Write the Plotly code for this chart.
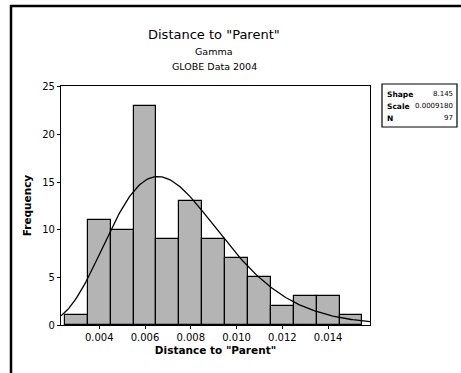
import math
import plotly.graph_objects as go

# Data
bin_centers = [0.003, 0.004, 0.005, 0.006, 0.007, 0.008, 0.009, 0.010, 0.011, 0.012, 0.013, 0.014, 0.015]
counts = [1, 11, 10, 23, 9, 13, 9, 7, 5, 2, 3, 3, 1]
bin_width = 0.001
shape_k = 8.145
scale_theta = 0.0009180
n_obs = 97
x_ticks = [0.004, 0.006, 0.008, 0.010, 0.012, 0.014]
x_tick_labels = ["0.004", "0.006", "0.008", "0.010", "0.012", "0.014"]
y_ticks = [0, 5, 10, 15, 20, 25]

x_range = [0.00233, 0.01583]
y_range = [0, 25.1]

# Fitted gamma curve scaled to counts
def gamma_pdf(x, k, th):
    return math.exp((k - 1) * math.log(x) - x / th - math.lgamma(k) - k * math.log(th))

n_pts = 200
curve_x = [x_range[0] + (x_range[1] - x_range[0]) * i / (n_pts - 1) for i in range(n_pts)]
curve_y = [gamma_pdf(x, shape_k, scale_theta) * n_obs * bin_width for x in curve_x]

fig = go.Figure()
fig.add_trace(go.Bar(
    x=bin_centers, y=counts, width=bin_width,
    marker=dict(color="#b4b4b4", line=dict(color="black", width=1.2)),
    showlegend=False, hoverinfo="skip"))
fig.add_trace(go.Scatter(
    x=curve_x, y=curve_y, mode="lines",
    line=dict(color="black", width=1.3), showlegend=False, hoverinfo="skip"))

font_main = "DejaVu Sans"
L, R, T, B = 61, 370, 86, 325
W, H = 461, 373
pw, ph = R - L, B - T

def px(xp):
    return (xp - L) / pw

def py(yp):
    return (B - yp) / ph

fig.update_layout(
    width=W, height=H,
    margin=dict(l=L, r=W - R, t=T, b=H - B),
    paper_bgcolor="white", plot_bgcolor="white",
    bargap=0,
    font=dict(family=font_main, color="black", size=10),
    xaxis=dict(range=x_range, tickvals=x_ticks, ticktext=x_tick_labels,
               ticks="outside", ticklen=3, tickcolor="black",
               showline=True, linecolor="black", linewidth=1.2, mirror=True,
               showgrid=False, zeroline=False,
               tickfont=dict(size=10, family=font_main),
               title=dict(text="<b>Distance to \"Parent\"</b>", font=dict(size=10.5, family=font_main), standoff=4)),
    yaxis=dict(range=y_range, tickvals=y_ticks,
               ticks="outside", ticklen=3, tickcolor="black",
               showline=True, linecolor="black", linewidth=1.2, mirror=True,
               showgrid=False, zeroline=False,
               tickfont=dict(size=10, family=font_main),
               title=dict(text="<b>Frequency</b>", font=dict(size=10.5, family=font_main), standoff=8)),
)

shapes = []
# outer frame (left and top edges visible)
shapes.append(dict(type="rect", xref="paper", yref="paper",
                   x0=px(11), x1=px(475), y0=py(385), y1=py(6),
                   line=dict(color="black", width=2.5), fillcolor="rgba(0,0,0,0)"))
# parameter box
shapes.append(dict(type="rect", xref="paper", yref="paper",
                   x0=px(382), x1=px(457), y0=py(127), y1=py(84),
                   line=dict(color="black", width=1.2), fillcolor="white"))
fig.update_layout(shapes=shapes)

anns = []
anns.append(dict(text="Distance to \"Parent\"", x=px(214), y=py(34), xref="paper", yref="paper",
                 showarrow=False, font=dict(size=13, family=font_main), xanchor="center", yanchor="middle"))
anns.append(dict(text="Gamma", x=px(214), y=py(51), xref="paper", yref="paper",
                 showarrow=False, font=dict(size=9.5, family=font_main), xanchor="center", yanchor="middle"))
anns.append(dict(text="GLOBE Data 2004", x=px(214), y=py(67), xref="paper", yref="paper",
                 showarrow=False, font=dict(size=9.5, family=font_main), xanchor="center", yanchor="middle"))
rows = [("Shape", f"{shape_k:.3f}", 94), ("Scale", f"{scale_theta:.7f}", 106), ("N", f"{n_obs}", 118)]
for lab, val, yy in rows:
    anns.append(dict(text=f"<b>{lab}</b>", x=px(385), y=py(yy), xref="paper", yref="paper",
                     showarrow=False, font=dict(size=7.5, family=font_main), xanchor="left", yanchor="middle"))
    anns.append(dict(text=val, x=px(455), y=py(yy), xref="paper", yref="paper",
                     showarrow=False, font=dict(size=7, family=font_main), xanchor="right", yanchor="middle"))
fig.update_layout(annotations=anns)

fig.write_html("out.html", config={"displayModeBar": False},
               post_script="document.body.style.margin='0';document.body.style.overflow='hidden';")
